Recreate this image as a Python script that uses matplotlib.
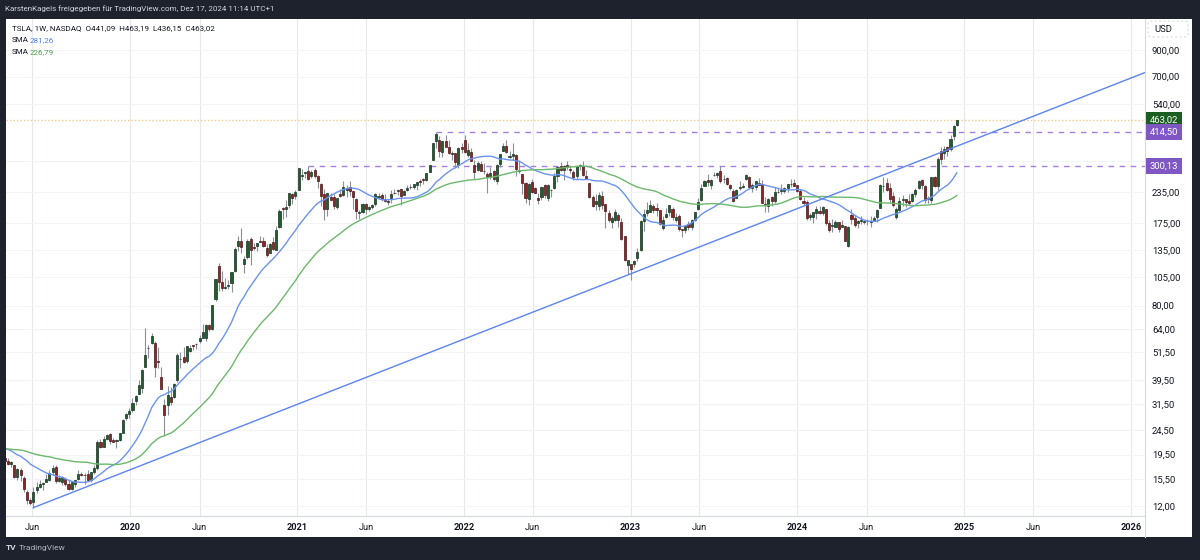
import numpy as np
import pandas as pd
import matplotlib
matplotlib.use('Agg')
import matplotlib.pyplot as plt
import matplotlib.dates as mdates
import matplotlib.transforms as mtransforms
from matplotlib.patches import Rectangle, FancyBboxPatch

plt.rcParams['font.family'] = ['Roboto', 'DejaVu Sans']

# weekly closes before the visible window (Apr 2018 - Mar 2019), only for the SMAs
pre_close = [17.8, 20.0, 19.3, 19.6, 20.1,
             20.1, 18.4, 18.5, 19.4,
             21.1, 23.9, 22.2, 22.8,
             20.5, 21.2, 20.9, 19.8, 23.2,
             23.7, 20.3, 21.5, 20.1,
             17.5, 19.7, 19.9, 17.6,
             17.4, 17.2, 17.3, 22.0, 23.1,
             23.4, 23.6, 21.7, 23.3,
             23.9, 24.3, 21.3, 22.2, 21.1,
             23.1, 20.1, 19.8, 20.8,
             20.3, 20.5, 19.7, 19.6,
             18.9, 18.3, 17.6, 18.6]

# weekly candles (open, high, low, close), first week Apr 1 2019
w2019 = [(18.9, 19.2, 17.7, 18.4), (18.3, 18.8, 17.7, 17.9), (17.9, 18.3, 17.3, 18.2), (17.6, 17.7, 15.6, 15.7), (15.8, 17.2, 15.3, 17.0),
         (16.8, 17.1, 15.2, 16.0), (15.6, 15.9, 13.7, 14.1), (13.7, 13.9, 12.2, 12.7), (12.7, 12.9, 12.1, 12.3),
         (12.4, 14.3, 11.8, 13.7), (13.9, 15.1, 13.6, 14.3), (14.3, 15.3, 14.2, 14.7), (14.8, 15.0, 13.9, 14.9),
         (15.0, 16.3, 15.0, 15.5), (15.3, 16.8, 15.2, 16.4), (16.5, 17.6, 16.1, 17.2), (17.3, 17.7, 14.9, 15.2), (15.2, 16.0, 15.0, 15.6),
         (15.0, 15.9, 14.6, 15.7), (15.5, 15.8, 14.5, 14.7), (14.8, 15.3, 13.9, 14.1), (14.1, 15.1, 14.0, 15.0),
         (14.8, 15.4, 14.4, 15.3), (15.5, 16.9, 15.4, 16.3), (16.3, 16.5, 15.9, 16.0), (16.1, 16.4, 14.8, 16.1), (16.2, 16.9, 15.2, 15.4),
         (15.3, 16.5, 15.0, 16.5), (16.5, 17.6, 16.3, 17.1), (17.2, 22.4, 16.9, 21.9), (21.9, 22.7, 20.8, 20.9),
         (21.0, 23.3, 20.9, 22.5), (22.6, 23.8, 22.4, 23.5), (23.6, 23.9, 21.5, 22.2), (22.3, 22.9, 21.9, 22.0),
         (22.1, 22.6, 20.8, 22.4), (22.4, 24.0, 22.2, 23.9), (24.0, 27.2, 24.0, 27.0), (27.5, 28.9, 27.0, 28.7), (28.6, 30.3, 27.6, 29.5)]
w2020 = [(29.7, 33.3, 29.3, 31.9), (32.3, 34.3, 31.1, 34.0), (34.7, 39.6, 34.6, 37.7), (36.5, 43.9, 34.9, 43.4),
         (44.9, 64.6, 44.9, 49.9), (53.5, 55.1, 48.5, 53.3), (56.0, 61.5, 55.7, 60.1), (56.0, 57.2, 40.8, 44.5),
         (47.1, 54.0, 44.2, 46.9), (40.6, 44.5, 36.3, 36.4), (31.3, 33.1, 23.4, 28.5), (31.3, 37.5, 28.4, 34.3), (33.6, 36.9, 31.3, 32.0),
         (33.6, 38.3, 33.4, 38.2), (39.4, 51.0, 38.8, 50.3), (48.3, 51.5, 44.3, 48.3), (49.2, 53.8, 46.5, 46.8),
         (47.2, 54.6, 46.5, 54.6), (52.1, 54.9, 51.3, 53.5), (55.0, 55.1, 52.5, 54.5), (55.5, 56.1, 53.1, 55.7),
         (57.3, 60.6, 55.9, 59.0), (58.9, 67.3, 58.7, 62.3), (58.9, 67.2, 57.0, 66.7), (66.7, 67.2, 62.8, 64.0), (64.0, 80.6, 63.5, 80.5),
         (85.0, 102.9, 83.3, 102.9), (116.3, 119.7, 91.5, 100.0), (100.1, 111.0, 92.1, 94.5), (94.9, 103.4, 94.0, 95.4),
         (96.0, 102.2, 93.2, 96.8), (99.0, 110.0, 91.0, 110.0), (110.6, 139.7, 110.4, 136.6), (140.0, 154.6, 134.0, 147.6), (147.3, 167.5, 131.5, 139.4),
         (119.0, 128.0, 109.0, 124.2), (126.9, 150.5, 124.2, 147.4), (150.5, 152.9, 117.3, 135.7), (139.8, 144.6, 135.0, 138.4),
         (141.2, 145.3, 134.5, 144.7), (147.0, 155.3, 146.0, 146.6), (146.9, 153.0, 139.4, 140.2), (137.9, 142.9, 126.4, 129.3),
         (131.6, 144.1, 131.0, 143.3), (146.0, 153.8, 136.0, 136.2), (136.0, 170.0, 136.0, 163.2), (167.8, 199.6, 166.9, 195.3), (201.0, 202.6, 181.0, 199.7),
         (200.0, 217.2, 185.0, 203.3), (207.7, 232.0, 201.9, 231.7), (231.0, 232.7, 209.3, 220.6), (224.8, 240.0, 219.0, 235.2)]
w2021 = [(239.8, 294.8, 239.1, 293.3), (271.7, 290.2, 263.0, 275.4), (281.7, 283.3, 268.2, 282.2), (285.0, 300.1, 262.6, 264.5),
         (271.7, 290.0, 268.0, 284.0), (287.8, 294.8, 268.2, 272.0), (272.3, 275.2, 243.4, 260.4), (254.0, 255.0, 206.3, 225.2),
         (230.0, 240.4, 179.8, 199.3), (200.2, 233.3, 186.7, 231.2), (224.0, 233.2, 217.0, 218.3), (223.0, 230.2, 200.0, 206.2), (204.0, 221.3, 200.3, 220.6),
         (230.3, 240.5, 224.0, 225.7), (228.6, 260.3, 226.7, 246.6), (239.2, 250.0, 223.0, 243.1), (245.0, 260.3, 226.6, 236.5),
         (235.9, 237.4, 200.5, 224.0), (220.0, 220.6, 182.3, 196.6), (192.4, 198.0, 182.3, 193.6), (193.3, 210.9, 191.7, 208.4),
         (209.3, 211.3, 190.9, 199.7), (199.0, 206.3, 195.1, 203.3), (204.3, 209.0, 199.4, 207.8), (208.9, 232.6, 205.4, 229.4), (223.2, 232.2, 219.7, 226.3),
         (227.4, 232.6, 216.3, 219.0), (219.5, 229.4, 212.3, 214.7), (213.0, 219.7, 206.8, 214.5), (222.0, 239.6, 211.1, 229.1),
         (233.3, 242.3, 229.2, 233.0), (237.6, 240.6, 228.8, 239.1), (241.2, 241.3, 206.8, 226.8), (228.4, 238.3, 227.6, 237.3), (240.0, 250.6, 236.4, 244.5),
         (246.2, 253.3, 242.2, 245.4), (247.0, 254.0, 242.3, 253.2), (250.0, 258.3, 238.8, 258.1), (259.9, 265.5, 248.0, 258.4),
         (265.9, 268.0, 253.1, 261.8), (262.6, 281.3, 260.0, 281.0), (283.9, 303.3, 283.8, 303.2), (316.8, 371.7, 316.8, 371.3),
         (381.7, 414.5, 356.6, 407.4), (383.0, 399.0, 326.2, 344.3), (342.0, 380.0, 326.4, 379.0), (381.8, 400.7, 360.0, 360.6), (360.0, 385.0, 336.0, 338.3),
         (335.0, 345.0, 317.7, 339.0), (339.0, 340.0, 296.4, 310.9), (303.6, 358.3, 295.4, 355.7), (357.9, 372.3, 340.0, 352.3)]
w2022 = [(382.6, 402.7, 338.0, 342.3), (333.3, 371.9, 326.7, 349.9), (342.2, 356.9, 314.0, 314.6), (301.6, 318.5, 264.0, 282.1), (290.0, 313.3, 285.0, 307.8),
         (306.0, 315.4, 286.4, 286.7), (287.0, 309.2, 278.8, 285.7), (278.0, 283.4, 233.3, 270.0), (271.0, 296.6, 266.2, 279.4),
         (285.6, 288.7, 260.7, 265.1), (260.9, 305.3, 252.0, 301.8), (304.5, 337.0, 298.0, 336.9), (346.6, 371.6, 345.6, 361.5),
         (363.1, 384.3, 340.0, 341.8), (326.8, 345.2, 324.5, 328.3), (329.0, 371.6, 317.4, 335.0), (333.0, 336.0, 273.9, 290.3),
         (286.9, 318.5, 281.0, 288.6), (278.3, 279.0, 229.0, 256.5), (255.3, 258.0, 211.6, 221.3), (218.9, 255.0, 206.9, 253.2), (257.9, 265.4, 232.3, 234.5),
         (244.0, 246.9, 232.4, 232.2), (222.5, 233.0, 208.7, 216.8), (224.6, 245.8, 217.2, 245.7), (249.4, 252.1, 222.5, 227.3),
         (222.0, 253.1, 215.5, 250.8), (238.4, 240.7, 224.7, 240.1), (244.0, 280.8, 240.3, 272.2), (272.1, 298.3, 258.4, 297.1),
         (301.3, 311.9, 287.0, 288.2), (289.3, 302.9, 262.5, 300.0), (301.8, 314.7, 288.2, 296.7), (291.9, 302.9, 280.5, 288.1), (282.8, 287.7, 262.5, 270.2),
         (272.7, 299.9, 265.7, 299.7), (300.1, 305.5, 289.4, 303.4), (300.1, 313.8, 271.8, 275.3), (271.8, 288.7, 264.5, 265.3),
         (254.5, 255.2, 222.0, 223.1), (223.9, 227.0, 203.0, 205.0), (210.0, 229.8, 198.6, 214.4), (205.8, 233.8, 198.6, 228.5), (226.2, 237.4, 198.8, 207.5),
         (208.7, 208.9, 166.2, 196.0), (192.8, 196.9, 176.6, 180.2), (175.9, 186.4, 166.2, 182.9), (180.0, 198.9, 178.5, 194.9),
         (189.4, 191.3, 169.1, 179.1), (176.1, 182.5, 148.9, 150.2), (154.0, 155.3, 122.3, 123.2), (117.5, 123.6, 108.2, 123.2)]
w2023 = [(118.5, 118.8, 101.8, 113.1), (119.0, 123.5, 114.9, 122.4), (125.7, 137.5, 121.9, 133.4), (135.9, 180.7, 134.3, 177.9), (178.1, 199.0, 162.5, 190.0),
         (193.0, 214.0, 187.6, 196.9), (194.4, 217.7, 193.9, 208.3), (205.0, 209.7, 191.8, 196.9), (202.0, 211.2, 186.0, 197.8),
         (198.5, 198.6, 172.1, 173.4), (167.5, 186.2, 163.9, 180.1), (184.5, 200.7, 183.0, 190.4), (194.4, 207.8, 187.2, 207.5),
         (199.9, 202.7, 179.1, 185.0), (179.9, 191.6, 176.1, 185.0), (186.3, 189.7, 162.8, 165.1), (164.7, 165.7, 152.4, 164.3),
         (163.2, 172.0, 158.8, 170.1), (173.7, 177.4, 163.9, 168.0), (167.7, 182.0, 164.0, 180.1), (180.7, 193.6, 178.1, 193.2), (200.1, 221.9, 198.3, 214.0),
         (217.8, 252.4, 214.4, 244.4), (247.9, 263.6, 247.6, 260.5), (261.5, 277.0, 248.0, 256.6), (250.1, 264.5, 241.3, 261.8),
         (276.5, 284.3, 273.3, 274.4), (276.5, 284.0, 268.0, 281.4), (286.6, 299.3, 255.8, 260.0), (265.4, 276.7, 255.6, 266.4), (267.5, 269.1, 250.5, 253.9),
         (251.5, 253.7, 238.0, 242.7), (235.7, 240.7, 212.4, 215.5), (221.6, 240.8, 220.6, 238.6), (242.6, 261.2, 238.9, 245.0),
         (245.0, 256.5, 243.9, 248.5), (264.3, 279.0, 262.3, 274.4), (271.2, 273.9, 244.5, 244.9), (243.4, 254.8, 234.6, 250.2),
         (244.8, 260.5, 238.4, 260.5), (255.3, 268.9, 250.0, 251.1), (250.2, 262.0, 210.4, 212.0), (210.0, 223.0, 194.1, 207.3), (205.1, 222.0, 194.3, 220.0),
         (224.0, 226.3, 204.7, 214.7), (215.6, 246.7, 211.6, 234.3), (234.0, 244.0, 231.5, 235.5), (236.9, 252.8, 231.0, 238.8),
         (235.8, 246.9, 231.3, 243.8), (242.7, 254.0, 234.6, 253.5), (253.8, 265.1, 246.2, 252.5), (254.5, 265.0, 247.4, 248.5)]
w2024 = [(250.1, 251.3, 235.2, 237.5), (236.1, 241.3, 217.2, 219.9), (215.1, 223.5, 207.6, 212.2), (212.3, 217.8, 180.1, 183.3), (185.6, 193.0, 179.4, 187.9),
         (184.3, 194.1, 175.0, 193.6), (192.1, 205.6, 182.0, 200.0), (196.1, 205.6, 189.8, 192.0), (192.3, 205.6, 188.5, 202.6),
         (198.7, 198.7, 171.0, 175.3), (175.5, 180.5, 160.5, 163.6), (170.0, 180.9, 160.5, 170.8), (168.8, 179.6, 168.0, 175.8),
         (176.2, 176.8, 160.6, 164.9), (169.0, 179.8, 168.2, 171.1), (170.2, 170.7, 146.8, 147.1), (140.6, 170.7, 138.8, 168.3), (188.4, 198.9, 173.2, 181.2),
         (183.8, 187.9, 168.5, 171.9), (174.5, 179.6, 167.1, 177.5), (177.6, 186.9, 172.9, 179.2), (176.4, 178.0, 173.3, 178.1),
         (178.1, 180.8, 171.0, 177.5), (176.1, 186.9, 167.6, 178.0), (177.9, 187.3, 177.6, 183.0), (185.0, 198.7, 177.0, 197.9),
         (201.0, 252.4, 200.9, 251.5), (247.7, 271.0, 233.6, 248.2), (255.3, 266.6, 236.8, 239.2), (244.2, 255.8, 212.1, 219.8), (224.9, 234.7, 203.5, 207.7),
         (185.2, 203.9, 182.0, 200.0), (198.5, 223.0, 194.5, 216.1), (217.1, 228.2, 205.9, 220.3), (218.8, 219.9, 202.6, 214.1),
         (215.3, 230.4, 206.8, 210.7), (216.2, 232.7, 212.3, 230.3), (229.3, 244.2, 223.1, 238.25), (242.6, 261.8, 240.8, 260.5), (262.7, 264.9, 240.3, 250.1),
         (249.0, 249.8, 212.1, 217.8), (220.1, 225.0, 211.9, 220.7), (218.3, 269.5, 212.1, 269.2), (270.0, 273.5, 245.8, 248.98),
         (249.0, 325.6, 238.9, 321.2), (346.3, 358.6, 305.3, 320.7), (340.7, 361.9, 320.1, 352.6), (360.1, 361.9, 328.6, 345.2),
         (352.4, 400.5, 346.5, 389.2), (397.6, 440.8, 382.4, 436.2), (441.09, 463.19, 436.15, 463.02)]

# trendline anchors (Jun 2019 low -> Dec 2024)
trend_dates = ['2019-06-03', '2024-12-16']
trend_prices = [11.8, 362.0]

# horizontal levels
level_hi = 414.50
level_hi_from = '2021-11-01'
level_mid = 300.13
level_mid_from = '2021-01-25'
last_price = 463.02

price_ticks = [12, 15.5, 19.5, 24.5, 31.5, 39.5, 51.5, 64, 80, 105, 135, 175, 235, 315, 540, 700, 900]
time_ticks = ['2019-06-01', '2020-01-01', '2020-06-01', '2021-01-01', '2021-06-01', '2022-01-01', '2022-06-01',
              '2023-01-01', '2023-06-01', '2024-01-01', '2024-06-01', '2025-01-01', '2025-06-01', '2026-01-01']
time_labels = ['Jun', '2020', 'Jun', '2021', 'Jun', '2022', 'Jun', '2023', 'Jun', '2024', 'Jun', '2025', 'Jun', '2026']

# ---- build frame ----
ohlc = np.array(w2019 + w2020 + w2021 + w2022 + w2023 + w2024)
dates = pd.date_range(end='2024-12-16', periods=len(ohlc), freq='W-MON')
df = pd.DataFrame(ohlc, index=dates, columns=['open', 'high', 'low', 'close'])
all_close = pd.Series(pre_close + list(df['close']))
df['sma20'] = all_close.rolling(20).mean().values[len(pre_close):]
df['sma50'] = all_close.rolling(50).mean().values[len(pre_close):]

W, H = 1200, 560
fig = plt.figure(figsize=(12, 5.6), dpi=100, facecolor='#1e222d')
fig.patches.append(Rectangle((6 / W, 1 - 537 / H), (1192 - 6) / W, (537 - 19) / H,
                             transform=fig.transFigure, facecolor='white', edgecolor='none', zorder=-5))

ax = fig.add_axes([6 / W, 1 - 516 / H, (1145 - 6) / W, (516 - 19) / H])
ax.set_facecolor('white')
ax.set_yscale('log')
ax.set_ylim(10.9, 1207)
x0 = mdates.date2num(pd.Timestamp('2019-04-04'))
x1 = mdates.date2num(pd.Timestamp('2026-02-01'))
ax.set_xlim(x0, x1)

xs = mdates.date2num(df.index)
up = (df['close'] >= df['open']).values
ax.vlines(xs, df['low'], df['high'], color='#8c8f99', linewidth=0.8, zorder=3)
body_lo = np.minimum(df['open'], df['close']).values
body_hi = np.maximum(df['open'], df['close']).values
ax.bar(xs[up], (body_hi - body_lo)[up], bottom=body_lo[up], width=4.6,
       color='#1f5c2e', edgecolor='#17331f', linewidth=0.5, zorder=4)
ax.bar(xs[~up], (body_hi - body_lo)[~up], bottom=body_lo[~up], width=4.6,
       color='#8c2626', edgecolor='#4d1616', linewidth=0.5, zorder=4)

ax.plot(xs, df['sma20'], color='#6b93f2', linewidth=1.0, zorder=5)
ax.plot(xs, df['sma50'], color='#6cb86c', linewidth=1.0, zorder=5)

# trendline extended to the right edge
tx = mdates.date2num(pd.to_datetime(trend_dates))
slope = (np.log(trend_prices[1]) - np.log(trend_prices[0])) / (tx[1] - tx[0])
ray_x = np.array([tx[0], x1])
ray_y = np.exp(np.log(trend_prices[0]) + slope * (ray_x - tx[0]))
ax.plot(ray_x, ray_y, color='#5b84ee', linewidth=1.0, zorder=5)

ax.hlines(level_hi, mdates.date2num(pd.Timestamp(level_hi_from)), x1, color='#a47fe0',
          linewidth=1.0, linestyles=(0, (4, 4)), zorder=2)
ax.hlines(level_mid, mdates.date2num(pd.Timestamp(level_mid_from)), x1, color='#a47fe0',
          linewidth=1.0, linestyles=(0, (4, 4)), zorder=2)
ax.axhline(last_price, color='#f7c98a', linewidth=1.0, linestyle=(0, (1, 1.5)), zorder=2)

# axes styling
tx_ticks = mdates.date2num(pd.to_datetime(time_ticks))
ax.set_xticks(tx_ticks)
ax.set_xticklabels(time_labels)
for lab in ax.get_xticklabels():
    if lab.get_text() != 'Jun':
        lab.set_fontweight('bold')
ax.yaxis.tick_right()
ax.set_yticks(price_ticks)
ax.set_yticklabels([f'{v:.2f}'.replace('.', ',') for v in price_ticks])
ax.yaxis.set_minor_locator(matplotlib.ticker.NullLocator())
ax.tick_params(axis='both', length=0, labelsize=6.8, colors='#131722')
ax.tick_params(axis='x', labelsize=6.6, pad=5)
ax.tick_params(axis='y', pad=5)
for v in tx_ticks:
    ax.axvline(v, color='#e6e8ee', linewidth=0.8, zorder=1)
for v in price_ticks:
    ax.axhline(v, color='#f3f4f7', linewidth=0.8, zorder=1)
for s in ['top', 'left']:
    ax.spines[s].set_visible(False)
for s in ['right', 'bottom']:
    ax.spines[s].set_color('#d6d9e0')
    ax.spines[s].set_linewidth(0.8)
fig.add_artist(plt.Line2D([1145 / W, 1145 / W], [1 - 537 / H, 1 - 516 / H], color='#d6d9e0', linewidth=0.8))

# price labels on the axis
trans = mtransforms.blended_transform_factory(ax.transAxes, ax.transData)
for val, fc in [(last_price, '#1b5e20'), (level_hi, '#7e57c2'), (level_mid, '#7e57c2')]:
    ax.text(1.004, val, f'{val:.2f}'.replace('.', ','), transform=trans, ha='left', va='center',
            fontsize=6.8, color='white', clip_on=False, zorder=10,
            bbox=dict(boxstyle='square,pad=0.4', facecolor=fc, edgecolor='none'))

fig.patches.append(FancyBboxPatch((1148 / W, 1 - 37 / H), 40 / W, 16 / H, boxstyle='round,pad=0,rounding_size=0.004',
                                  transform=fig.transFigure, facecolor='white', edgecolor='#d9dce3',
                                  linestyle=(0, (2, 2)), linewidth=0.8, zorder=-4))
fig.text(1154 / W, 1 - 29 / H, 'USD', fontsize=6.8, color='#131722', va='center', ha='left')

# header, legend, footer
fig.text(5 / W, 1 - 9 / H, 'KarstenKagels freigegeben für TradingView.com, Dez 17, 2024 11:14 UTC+1',
         fontsize=5.8, color='#d1d4dc', va='center', ha='left')
fig.text(12 / W, 1 - 28 / H, 'TSLA, 1W, NASDAQ  O441,09  H463,19  L436,15  C463,02',
         fontsize=5.8, color='#131722', va='center', ha='left')
fig.text(12 / W, 1 - 40 / H, 'SMA', fontsize=5.8, color='#131722', va='center', ha='left')
fig.text(30 / W, 1 - 40 / H, '281,26', fontsize=5.8, color='#4f7ff0', va='center', ha='left')
fig.text(12 / W, 1 - 52 / H, 'SMA', fontsize=5.8, color='#131722', va='center', ha='left')
fig.text(30 / W, 1 - 52 / H, '226,79', fontsize=5.8, color='#43a047', va='center', ha='left')
fig.text(6 / W, 1 - 548 / H, 'TV', fontsize=6, color='#d1d4dc', fontweight='bold', va='center', ha='left')
fig.text(19 / W, 1 - 548 / H, 'TradingView', fontsize=6, color='#b2b5be', va='center', ha='left')

fig.savefig('out.png', dpi=100, facecolor=fig.get_facecolor())
